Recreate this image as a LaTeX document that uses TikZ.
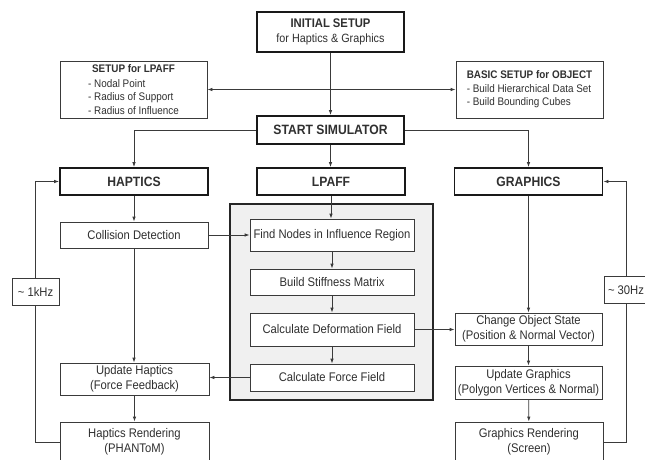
\documentclass[tikz,border=0pt]{standalone}
\usepackage{fontspec}
\setmainfont{Liberation Sans}[FakeStretch=0.9]
\usetikzlibrary{arrows.meta, positioning}
\definecolor{lnclr}{HTML}{3A3A3A}
\definecolor{txclr}{HTML}{303030}
\definecolor{panel}{HTML}{F0F0F0}

\begin{document}
\begin{tikzpicture}[x=1pt, y=-1pt, >={Latex[length=5pt, width=3.5pt]},
  every node/.style={text=txclr},
  headbox/.style={draw=black!90, line width=1.8pt, fill=white, minimum width=148pt, minimum height=27pt, inner sep=0pt, align=center, font=\fontsize{13.5}{15}\selectfont\bfseries},
  stepbox/.style={draw=lnclr, line width=0.8pt, fill=white, minimum width=148pt, inner sep=0pt, align=center, font=\fontsize{12.5}{15}\selectfont},
  innerbox/.style={stepbox, minimum width=164pt},
  setupbox/.style={draw=lnclr, line width=0.8pt, minimum width=147pt, minimum height=57pt, inner sep=0pt, align=left, font=\fontsize{11}{13.5}\selectfont},
  ratebox/.style={stepbox, minimum width=47pt, minimum height=27pt},
  flow/.style={->, draw=lnclr, line width=0.8pt},
  loop/.style={draw=lnclr, line width=0.8pt}]

\clip (0,0) rectangle (645,459);

% LPAFF panel
\filldraw[fill=panel, draw=black!85, line width=1.6pt] (230,204) rectangle (433,400);

% Setup stage
\node[headbox, minimum width=147pt, minimum height=40pt, font=\fontsize{12.5}{15}\selectfont\bfseries] (init) at (330.5,32)
  {INITIAL SETUP\\{\mdseries\fontsize{12}{15}\selectfont for Haptics \& Graphics}};
\node[setupbox] (setlp) at (133.5,89.5)
  {\hspace*{4pt}\textbf{SETUP for LPAFF}\\[1.5pt]- Nodal Point\\- Radius of Support\\- Radius of Influence};
\node[setupbox] (basic) at (529.5,89.5)
  {\textbf{BASIC SETUP for OBJECT}\\- Build Hierarchical Data Set\\- Build Bounding Cubes};
\node[headbox, minimum width=147pt, minimum height=28pt] (start) at (330.5,130) {START SIMULATOR};

% Column heads
\node[headbox] (haptics) at (134,181.5) {HAPTICS};
\node[headbox] (lpaff) at (331,181.5) {LPAFF};
\node[headbox] (graphics) at (528.5,181.5) {GRAPHICS};

% Haptics column
\node[stepbox, minimum height=26pt] (collision) at (134,235) {Collision Detection};
\node[stepbox, minimum width=149pt, minimum height=32pt] (uphap) at (134.5,379) {Update Haptics\\(Force Feedback)};
\node[stepbox, minimum width=149pt, minimum height=40pt] (hrend) at (134.5,442) {Haptics Rendering\\(PHANToM)};
\node[ratebox] (khz) at (35.5,291.5) {\textasciitilde{} 1kHz};

% LPAFF column
\node[innerbox, minimum height=32pt] (find) at (332,235) {Find Nodes in Influence Region};
\node[innerbox, minimum height=26pt] (stiff) at (332,282) {Build Stiffness Matrix};
\node[innerbox, minimum height=33pt] (deform) at (332,329.5) {Calculate Deformation Field};
\node[innerbox, minimum height=27pt] (force) at (332,377.5) {Calculate Force Field};

% Graphics column
\node[stepbox, minimum width=147pt, minimum height=32pt] (change) at (528.5,329) {Change Object State\\(Position \& Normal Vector)};
\node[stepbox, minimum width=147pt, minimum height=33pt] (upgra) at (528.5,382.5) {Update Graphics\\(Polygon Vertices \& Normal)};
\node[stepbox, minimum width=148pt, minimum height=40pt] (grend) at (529,442) {Graphics Rendering\\(Screen)};
\node[ratebox, minimum width=44pt] (hz30) at (626,290) {\textasciitilde{} 30Hz};

% Setup connectors
\coordinate (split) at (init.south |- setlp.east);
\draw[flow] (init) -- (start);
\draw[flow] (split) -- (setlp.east);
\draw[flow] (split) -- (basic.west);
\draw[flow] (start.west) -| (haptics.north);
\draw[flow] (start.east) -| (graphics.north);
\draw[flow] (start) -- (start.south |- lpaff.north);

% Haptics flow
\draw[flow] (haptics) -- (collision);
\draw[flow] (collision) -- (collision.south |- uphap.north);
\draw[flow] (uphap) -- (uphap.south |- hrend.north);
\draw[flow] (collision) -- (find);

% LPAFF flow
\draw[flow] (lpaff.south) -- (lpaff.south |- find.north);
\draw[flow] (find) -- (stiff);
\draw[flow] (stiff) -- (deform);
\draw[flow] (deform) -- (force);
\draw[flow] (deform) -- (deform.east -| change.west);
\draw[flow] (force.west) -- (force.west -| uphap.east);

% Graphics flow
\draw[flow] (graphics.south -| change.north) -- (change);
\draw[flow] (change) -- (upgra);
\draw[flow] (upgra) -- (grend);

% Update loops
\draw[loop] (hrend.west) -| (khz.south);
\draw[flow] (khz.north) |- (haptics.west);
\draw[loop] (grend.east) -| (hz30.south);
\draw[flow] (hz30.north) |- (graphics.east);

\end{tikzpicture}
\end{document}
